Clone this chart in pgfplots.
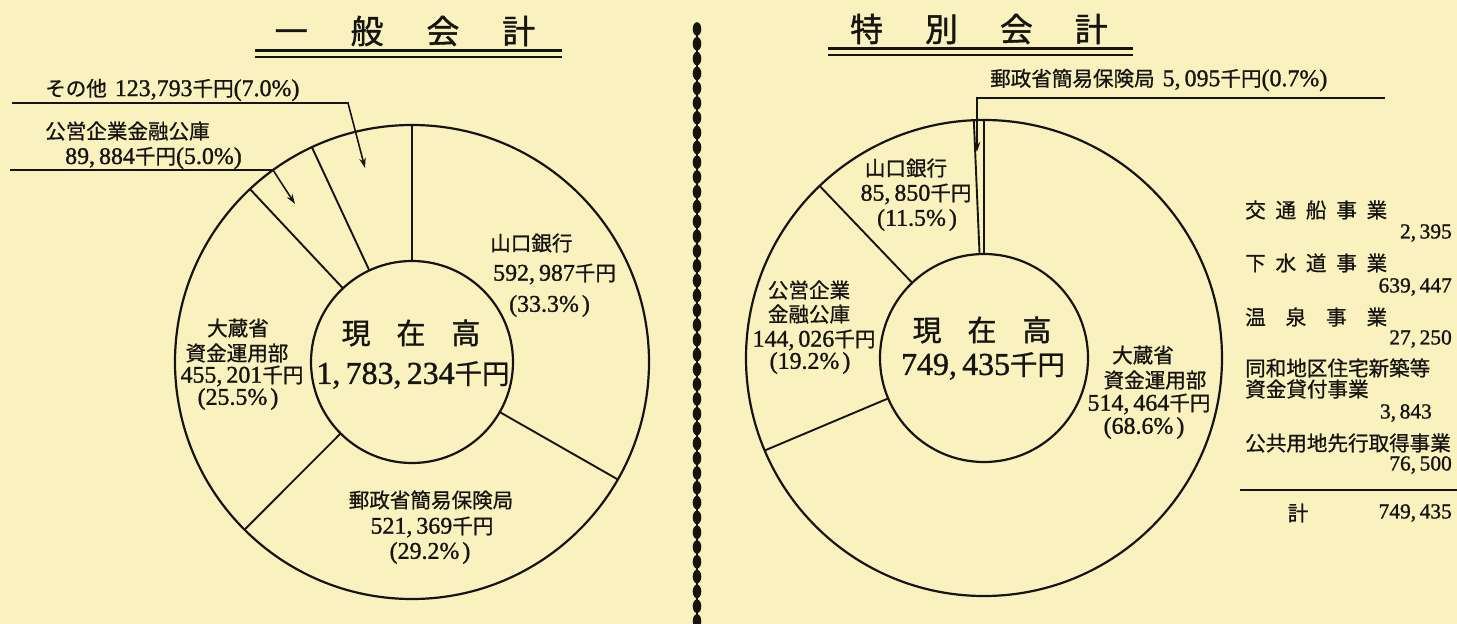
\documentclass[border=0pt]{standalone}
\usepackage{pgfplots}
\pgfplotsset{compat=1.18}
\usepackage{pgfplotstable}
\usepackage{fontspec}
\setmainfont{Liberation Serif}[RawFeature={embolden=1.2}]
\newfontfamily\cjk{Noto Sans CJK JP}[Scale=0.86, RawFeature={embolden=0.8}]
\newfontfamily\cjkt{Noto Sans CJK JP}[RawFeature={embolden=1.2}]
\usetikzlibrary{arrows.meta}
\definecolor{paper}{RGB}{250,242,190}
\definecolor{ink}{RGB}{22,20,16}
\newcommand\J[1]{{\cjk #1}}
\newcommand\T[1]{{\cjk\fontsize{24}{26}\selectfont #1}}
\newcommand\pc[1]{(#1\%\hspace{3bp})}

% 一般会計 (千円), clockwise from 12 o'clock
\pgfplotstableread{
name value
山口銀行 592987
郵政省簡易保険局 521369
大蔵省資金運用部 455201
公営企業金融公庫 89884
その他 123793
}\generaltable
% 特別会計 (千円), clockwise from 12 o'clock
\pgfplotstableread{
name value
大蔵省資金運用部 514464
公営企業金融公庫 144026
山口銀行 85850
郵政省簡易保険局 5095
}\specialtable

% build the spokes of a donut from a table: #1 table, #2 cx, #3 cy, #4 r inner, #5 R outer, #6 macro
\newcommand\buildspokes[6]{%
  \pgfplotstablegetrowsof{#1}\edef\nrows{\pgfplotsretval}%
  \edef\lastrow{\the\numexpr\nrows-1\relax}%
  \edef\tot{0}%
  \pgfplotsforeachungrouped \i in {0,...,\lastrow}{%
    \pgfplotstablegetelem{\i}{value}\of{#1}%
    \edef\tot{\fpeval{\tot+\pgfplotsretval}}}%
  \edef\cum{0}%
  \def#6{}%
  \pgfplotsforeachungrouped \i in {0,...,\lastrow}{%
    \edef\th{\fpeval{360*\cum/\tot}}%
    \edef#6{\unexpanded\expandafter{#6}\noexpand\addplot[spoke] coordinates {(\fpeval{round(#2+#4*sind(\th),3)},\fpeval{round(#3-#4*cosd(\th),3)}) (\fpeval{round(#2+#5*sind(\th),3)},\fpeval{round(#3-#5*cosd(\th),3)})};}%
    \pgfplotstablegetelem{\i}{value}\of{#1}%
    \edef\cum{\fpeval{\cum+\pgfplotsretval}}}%
}
\buildspokes{\generaltable}{412}{362}{101}{237}{\generalspokes}
\buildspokes{\specialtable}{984}{358}{104}{238}{\specialspokes}

\tikzset{
  lab/.style={inner sep=0pt, font=\fontsize{24}{26}\selectfont, text=ink},
  tab/.style={inner sep=0pt, font=\fontsize{21.5}{24}\selectfont, text=ink},
  big/.style={inner sep=0pt, font=\fontsize{32}{36}\selectfont, text=ink},
  ttl/.style={inner sep=0pt, font=\fontsize{33}{36}\selectfont, text=ink},
  lead/.style={draw=ink, line width=1.6bp},
  arr/.style={draw=ink, line width=1.6bp, -{Stealth[length=10bp,width=6.5bp]}},
}
\pgfplotsset{spoke/.style={ink, line width=1.9bp, no marks}}

\begin{document}
\begin{tikzpicture}
\begin{axis}[
  scale only axis, width=1457bp, height=624bp,
  xmin=0, xmax=1457, ymin=0, ymax=624, y dir=reverse,
  hide axis, clip=false,
]
\fill[paper] (axis cs:0,0) rectangle (axis cs:1457,624);
\coordinate (BL) at (axis cs:0,624);
\coordinate (TR) at (axis cs:1457,0);

% separator
\draw[ink, line width=2.6bp] (axis cs:697,25) -- (axis cs:697,624);
\pgfplotsinvokeforeach{0,...,40}{
  \fill[ink] (axis cs:697,{29+#1*14.8}) ellipse [x radius=4.3, y radius=6.8];
}

% titles
\node[ttl] at (axis cs:405,31) {{\cjkt 一\hspace{43bp}般\hspace{43bp}会\hspace{43bp}計}};
\draw[ink, line width=3bp] (axis cs:255,51) -- (axis cs:562,51);
\draw[ink, line width=1.8bp] (axis cs:255,57) -- (axis cs:562,57);
\node[ttl] at (axis cs:979,29) {{\cjkt 特\hspace{42bp}別\hspace{42bp}会\hspace{42bp}計}};
\draw[ink, line width=3bp] (axis cs:828,49) -- (axis cs:1133,49);
\draw[ink, line width=1.8bp] (axis cs:828,55) -- (axis cs:1133,55);

% ---------- left donut ----------
\draw[ink, line width=2.2bp] (axis cs:412,362) ellipse [x radius=237, y radius=237];
\draw[ink, line width=2.2bp] (axis cs:412,362) ellipse [x radius=101, y radius=101];
\generalspokes

\node[big] at (axis cs:411,333) {{\cjkt\fontsize{29}{32}\selectfont 現\hspace{26bp}在\hspace{26bp}高}};
\node[big] at (axis cs:413,375) {1,\,783,\,234\J{千円}};

\node[lab,anchor=west] at (axis cs:490,243) {\J{山口銀行}};
\node[lab,anchor=west] at (axis cs:493,274) {592,\,987\J{千円}};
\node[lab,anchor=west] at (axis cs:509,306) {\pc{33.3}};

\node[lab] at (axis cs:238,328) {\J{大蔵省}};
\node[lab] at (axis cs:237,353) {\J{資金運用部}};
\node[lab] at (axis cs:242,376) {455,\,201\J{千円}};
\node[lab] at (axis cs:238,399) {\pc{25.5}};

\node[lab] at (axis cs:431,500) {\J{郵政省簡易保険局}};
\node[lab] at (axis cs:432,527) {521,\,369\J{千円}};
\node[lab] at (axis cs:430,553) {\pc{29.2}};

\node[lab,anchor=west] at (axis cs:45,90) {\J{その他}\,\,123,793\J{千円}(7.0\%)};
\path[lead] (axis cs:12,103) -- (axis cs:349,103);
\path[arr] (axis cs:348,103) -- (axis cs:365,168);
\node[lab,anchor=west] at (axis cs:45,131) {\J{公営企業金融公庫}};
\node[lab,anchor=west] at (axis cs:65,158) {89,\,884\J{千円}(5.0\%)};
\path[lead] (axis cs:10,170) -- (axis cs:274,170);
\path[arr] (axis cs:273,170) -- (axis cs:295,204);

% ---------- right donut ----------
\draw[ink, line width=2.2bp] (axis cs:984,358) ellipse [x radius=238, y radius=238];
\draw[ink, line width=2.2bp] (axis cs:984,358) ellipse [x radius=104, y radius=104];
\specialspokes

\node[big] at (axis cs:982,330) {{\cjkt\fontsize{29}{32}\selectfont 現\hspace{26bp}在\hspace{26bp}高}};
\node[big] at (axis cs:983,366) {749,\,435\J{千円}};

\node[lab] at (axis cs:906,168) {\J{山口銀行}};
\node[lab] at (axis cs:916,194) {85,\,850\J{千円}};
\node[lab] at (axis cs:917,220) {\pc{11.5}};

\node[lab] at (axis cs:809,290) {\J{公営企業}};
\node[lab] at (axis cs:809,314) {\J{金融公庫}};
\node[lab] at (axis cs:814,340) {144,\,026\J{千円}};
\node[lab] at (axis cs:810,363) {\pc{19.2}};

\node[lab] at (axis cs:1143,355) {\J{大蔵省}};
\node[lab] at (axis cs:1155,380) {\J{資金運用部}};
\node[lab] at (axis cs:1149,404) {514,\,464\J{千円}};
\node[lab] at (axis cs:1144,428) {\pc{68.6}};

\node[lab,anchor=west] at (axis cs:990,80) {\J{郵政省簡易保険局}\,\,5,\,095\J{千円}(0.7\%)};
\path[lead] (axis cs:977,98) -- (axis cs:1385,98);
\path[arr] (axis cs:977,97) -- (axis cs:977,152);

% ---------- right table ----------
\node[tab,anchor=west] at (axis cs:1245,210) {\T{\makebox[142bp][s]{交\hfil 通\hfil 船\hfil 事\hfil 業}}};
\node[tab,anchor=east] at (axis cs:1452,233) {2,\,395};
\node[tab,anchor=west] at (axis cs:1245,263) {\T{\makebox[142bp][s]{下\hfil 水\hfil 道\hfil 事\hfil 業}}};
\node[tab,anchor=east] at (axis cs:1452,287) {639,\,447};
\node[tab,anchor=west] at (axis cs:1245,317) {\T{\makebox[142bp][s]{温\hfil 泉\hfil 事\hfil 業}}};
\node[tab,anchor=east] at (axis cs:1452,339) {27,\,250};
\node[tab,anchor=west] at (axis cs:1245,368) {\T{同和地区住宅新築等}};
\node[tab,anchor=west] at (axis cs:1245,389) {\T{資金貸付事業}};
\node[tab,anchor=east] at (axis cs:1432,413) {3,\,843};
\node[tab,anchor=west] at (axis cs:1245,443) {\T{公共用地先行取得事業}};
\node[tab,anchor=east] at (axis cs:1452,465) {76,\,500};
\draw[ink, line width=2.6bp] (axis cs:1240,490) -- (axis cs:1457,490);
\node[tab] at (axis cs:1298,513) {\T{計}};
\node[tab,anchor=east] at (axis cs:1452,513) {749,\,435};
\end{axis}
\pgfresetboundingbox
\useasboundingbox (BL) rectangle (TR);
\end{tikzpicture}
\end{document}
